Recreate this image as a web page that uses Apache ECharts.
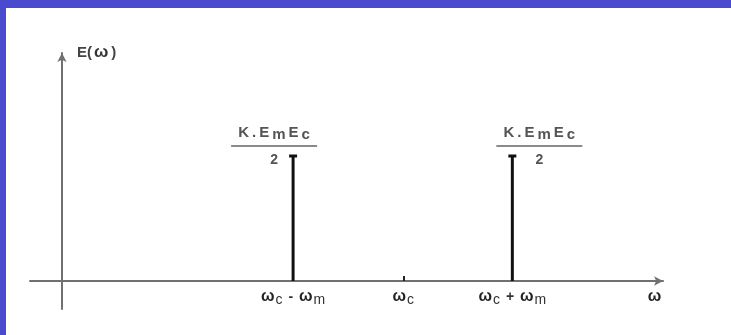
<!DOCTYPE html>
<html>
<head>
<meta charset="utf-8">
<script src="https://cdn.jsdelivr.net/npm/echarts@6/dist/echarts.min.js"></script>
<style>
  html, body { margin: 0; padding: 0; background: #fff; }
  #chart { width: 731px; height: 335px; }
</style>
</head>
<body>
<div id="chart"></div>
<script>
// spectrum of DSB-SC: two side lines, carrier only marked on the axis
var linePos = [2.14, 4.17];
var lineAmp = [1, 1];
var carrierPos = 3.16;
var tickPos = [2.14, 3.16, 4.17, 5.49];
var tickLabels = [
  '{w|ω}{s|c}{o| - }{w|ω}{s|m}',
  '{w|ω}{s|c}',
  '{w|ω}{s|c}{o| + }{w|ω}{s|m}',
  '{w|ω}'
];
var ampNum = [['K', 'a'], ['.', 'a'], ['E', 'a'], ['m', 'b'], ['E', 'a'], ['c', 'b']];
var ampDen = '2';

var chart = echarts.init(document.getElementById('chart'));
var axisGray = '#707070';
var font = 'Liberation Sans';

var option = {
  backgroundColor: '#fff',
  animation: false,
  grid: { left: 30, right: 68, top: 53, bottom: 26, outerBoundsMode: 'none', containLabel: false },
  graphic: [
    { type: 'rect', shape: { x: 0, y: 0, width: 731, height: 8 }, style: { fill: '#4a4acf' } },
    { type: 'rect', shape: { x: 0, y: 0, width: 6, height: 335 }, style: { fill: '#4a4acf' } }
  ],
  xAxis: {
    type: 'value',
    min: -0.296,
    max: 5.565,
    axisLine: { onZero: true, symbol: ['none', 'arrow'], symbolSize: [7, 9], lineStyle: { color: axisGray, width: 2 } },
    axisTick: { show: true, inside: true, length: 5, customValues: [carrierPos], lineStyle: { color: '#222', width: 2 } },
    axisLabel: {
      customValues: tickPos,
      margin: -20,
      formatter: function (v) { return tickLabels[tickPos.indexOf(v)] || ''; },
      rich: {
        w: { fontSize: 16, fontWeight: 'bold', color: '#222', fontFamily: font, padding: [0, 1, 7, 0] },
        s: { fontSize: 14, color: '#333', fontFamily: font },
        o: { fontSize: 14, color: '#333', fontFamily: font, fontWeight: 'bold', padding: [0, 2, 7, 2] }
      }
    },
    splitLine: { show: false }
  },
  yAxis: {
    type: 'value',
    min: -0.224,
    max: 1.824,
    name: '{e|E(}{w|ω}{e|)}',
    nameLocation: 'end',
    nameGap: 0,
    nameTextStyle: {
      align: 'left', padding: [0, 0, -8, 13],
      rich: {
        e: { fontSize: 15, fontWeight: 'bold', color: '#444', fontFamily: font, padding: [0, 1, 0, 2] },
        w: { fontSize: 17, fontWeight: 'bold', color: '#333', fontFamily: font, padding: [0, 1, 0, 1] }
      }
    },
    axisLine: { onZero: true, symbol: ['none', 'arrow'], symbolSize: [7, 9], lineStyle: { color: axisGray, width: 2 } },
    axisTick: { show: false },
    axisLabel: { show: false },
    splitLine: { show: false }
  },
  series: [{
    type: 'custom',
    data: linePos.map(function (x, i) { return [x, lineAmp[i]]; }),
    renderItem: function (params, api) {
      var p0 = api.coord([api.value(0), 0]);
      var p1 = api.coord([api.value(0), api.value(1)]);
      var shift = params.dataIndex === 0 ? -19 : 27;
      var cx = p1[0] + shift;
      var barY = p1[1] - 10;
      var numText = ampNum.map(function (c) { return '{' + c[1] + '|' + c[0] + '}'; }).join('');
      return {
        type: 'group',
        children: [
          { type: 'line', shape: { x1: p0[0], y1: p0[1], x2: p1[0], y2: p1[1] }, style: { stroke: '#111', lineWidth: 3 } },
          { type: 'line', shape: { x1: p1[0] - 4, y1: p1[1], x2: p1[0] + 4, y2: p1[1] }, style: { stroke: '#111', lineWidth: 3 } },
          { type: 'line', shape: { x1: cx - 43, y1: barY, x2: cx + 43, y2: barY }, style: { stroke: '#8a8a8a', lineWidth: 2 } },
          {
            type: 'text', x: cx, y: barY - 2,
            style: {
              text: numText,
              align: 'center', verticalAlign: 'bottom',
              rich: {
                a: { fontSize: 15, fill: '#555', fontFamily: font, fontWeight: 'bold', padding: [0, 1.5, 4, 1.5] },
                b: { fontSize: 15, fill: '#555', fontFamily: font, fontWeight: 'bold', padding: [0, 1.5, 0, 1.5] }
              }
            }
          },
          {
            type: 'text', x: cx, y: barY + 14,
            style: { text: ampDen, align: 'center', verticalAlign: 'middle', fontSize: 14, fontWeight: 'bold', fill: '#555', fontFamily: font }
          }
        ]
      };
    }
  }]
};

chart.setOption(option);
</script>
</body>
</html>
